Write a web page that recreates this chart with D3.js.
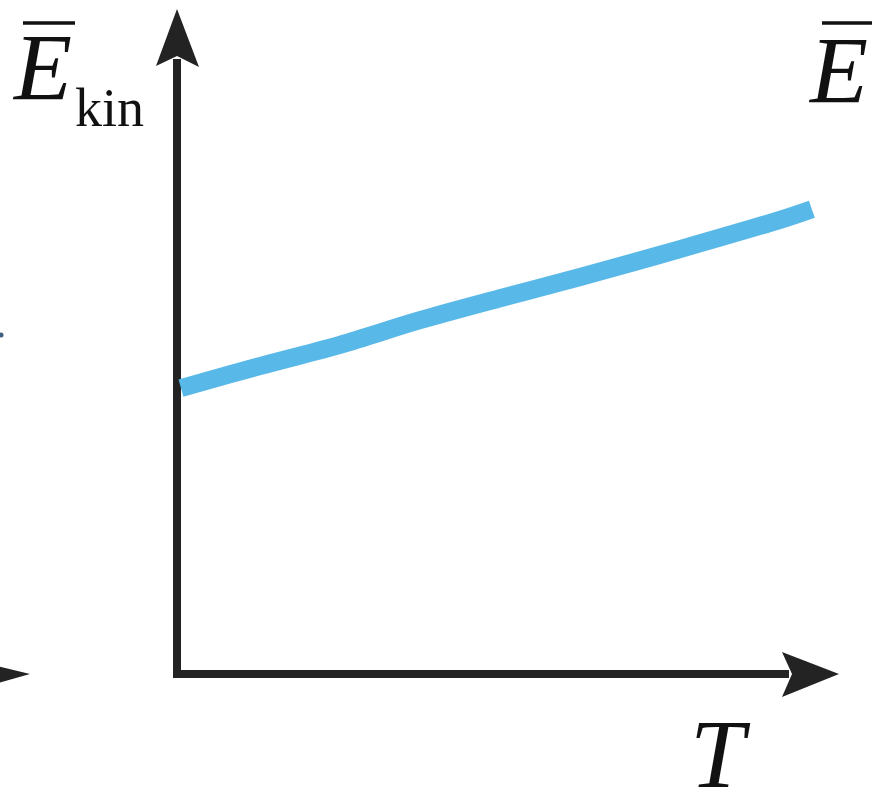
<!DOCTYPE html>
<html>
<head>
<meta charset="utf-8">
<script src="https://cdn.jsdelivr.net/npm/d3@7"></script>
<style>
  html, body { margin: 0; padding: 0; background: #fff; overflow: hidden; }
</style>
</head>
<body>
<script>
// Values (arbitrary units, 0..100 on both axes)
var temperature = [0.6, 12.5, 24.6, 36.7, 48.8, 60.9, 76.0, 91.1, 95.9];
var kineticEnergy = [43.0, 46.3, 49.5, 53.2, 56.5, 59.7, 63.9, 68.3, 69.9];

var yLabel = "E";
var ySub = "kin";
var xLabel = "T";

var width = 872, height = 808;

var svg = d3.select("body").append("svg")
    .attr("width", width)
    .attr("height", height);

var x = d3.scaleLinear().domain([0, 100]).range([177, 839]);
var y = d3.scaleLinear().domain([0, 100]).range([674, 9]);

var axisColor = "#232323";

// Axis lines
svg.append("line")
    .attr("x1", x(0)).attr("y1", y(0) + 4)
    .attr("x2", x(0)).attr("y2", y(100) + 50)
    .attr("stroke", axisColor)
    .attr("stroke-width", 8);

svg.append("line")
    .attr("x1", x(0) - 4).attr("y1", y(0))
    .attr("x2", x(100) - 50).attr("y2", y(0))
    .attr("stroke", axisColor)
    .attr("stroke-width", 8);

// Arrow heads
function arrowUp(cx, tip) {
    return "M" + cx + "," + tip +
        "L" + (cx + 22) + "," + (tip + 58) +
        "L" + cx + "," + (tip + 47) +
        "L" + (cx - 21) + "," + (tip + 57) + "Z";
}
function arrowRight(tip, cy) {
    return "M" + tip + "," + cy +
        "L" + (tip - 57) + "," + (cy + 23) +
        "L" + (tip - 47) + "," + cy +
        "L" + (tip - 57) + "," + (cy - 22) + "Z";
}
svg.append("path").attr("d", arrowUp(x(0), y(100))).attr("fill", axisColor);
svg.append("path").attr("d", arrowRight(x(100), y(0))).attr("fill", axisColor);

// Piece of the neighbouring panel's arrow at the left edge
svg.append("path")
    .attr("d", "M-20,662L30," + y(0) + "L-20,688Z")
    .attr("fill", axisColor);
svg.append("circle")
    .attr("cx", 1).attr("cy", 335).attr("r", 2.5)
    .attr("fill", "#3d5f80");

// The curve
var line = d3.line()
    .x(function(d, i) { return x(temperature[i]); })
    .y(function(d) { return y(d); })
    .curve(d3.curveCatmullRom);

svg.append("path")
    .datum(kineticEnergy)
    .attr("d", line)
    .attr("fill", "none")
    .attr("stroke", "#58b8e8")
    .attr("stroke-width", 18)
    .attr("stroke-linecap", "butt");

// Labels
var serif = "'Liberation Serif', 'DejaVu Serif', serif";

svg.append("text")
    .attr("x", 14).attr("y", 100)
    .attr("font-family", serif)
    .attr("font-style", "italic")
    .attr("font-size", 95)
    .attr("fill", "#111")
    .text(yLabel);
svg.append("text")
    .attr("x", 75).attr("y", 126)
    .attr("font-family", serif)
    .attr("font-size", 54)
    .attr("fill", "#111")
    .text(ySub);
svg.append("line")
    .attr("x1", 23).attr("x2", 75)
    .attr("y1", 23).attr("y2", 23)
    .attr("stroke", "#111").attr("stroke-width", 3.5);

// Label of the next panel at the right edge
svg.append("text")
    .attr("x", 810).attr("y", 103)
    .attr("font-family", serif)
    .attr("font-style", "italic")
    .attr("font-size", 95)
    .attr("fill", "#111")
    .text(yLabel);
svg.append("line")
    .attr("x1", 822).attr("x2", 872)
    .attr("y1", 23).attr("y2", 23)
    .attr("stroke", "#111").attr("stroke-width", 3.5);

svg.append("text")
    .attr("x", 690).attr("y", 787)
    .attr("font-family", serif)
    .attr("font-style", "italic")
    .attr("font-size", 98)
    .attr("fill", "#111")
    .text(xLabel);
</script>
</body>
</html>
